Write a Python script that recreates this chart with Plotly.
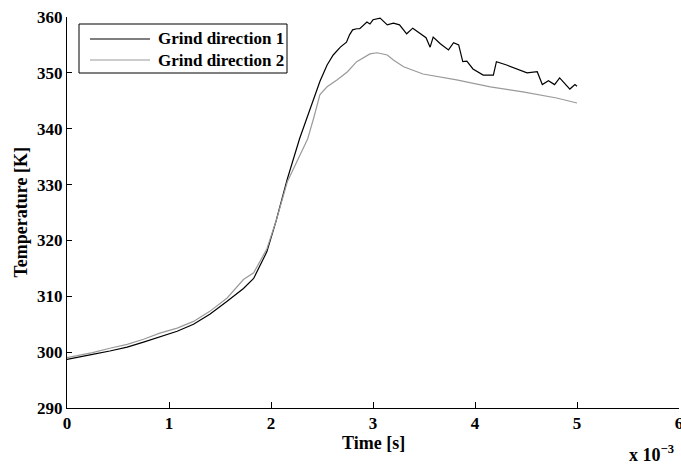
import plotly.graph_objects as go

# Time in ms (axis shown as x 10^-3 s), temperature in K
t_dir1 = [0.00, 0.10, 0.25, 0.42, 0.59, 0.75, 0.91, 1.08, 1.24, 1.40,
          1.57, 1.73, 1.83, 1.90, 1.96, 2.05, 2.16, 2.28, 2.41, 2.48,
          2.55, 2.61, 2.68, 2.71, 2.74, 2.77, 2.80, 2.84, 2.87, 2.94,
          2.97, 3.00, 3.07, 3.14, 3.20, 3.26, 3.33, 3.39, 3.46, 3.52,
          3.56, 3.59, 3.66, 3.74, 3.79, 3.84, 3.88, 3.92, 3.98, 4.08,
          4.18, 4.21, 4.31, 4.44, 4.51, 4.61, 4.66, 4.72, 4.78, 4.83,
          4.93, 4.98, 5.00]
T_dir1 = [298.7, 299.1, 299.6, 300.2, 300.9, 301.8, 302.7, 303.75, 305.0, 306.8,
          309.1, 311.4, 313.2, 315.9, 318.0, 323.5, 331.0, 338.2, 344.8, 348.5,
          351.4, 353.2, 354.6, 355.0, 355.5, 356.8, 357.7, 357.9, 357.9, 359.1,
          358.75, 359.5, 359.8, 358.6, 358.9, 358.6, 357.0, 358.0, 357.0, 356.3,
          354.6, 356.4, 355.2, 354.1, 355.4, 355.0, 352.0, 352.1, 350.7, 349.6,
          349.6, 352.0, 351.4, 350.5, 350.0, 350.2, 347.9, 348.6, 347.9, 349.1,
          347.1, 347.9, 347.6]

t_dir2 = [0.00, 0.25, 0.42, 0.59, 0.75, 0.91, 1.08, 1.24, 1.40, 1.57,
          1.73, 1.83, 1.96, 2.05, 2.16, 2.26, 2.36, 2.42, 2.48, 2.55,
          2.65, 2.75, 2.84, 2.97, 3.04, 3.14, 3.20, 3.30, 3.49, 3.82,
          4.15, 4.47, 4.80, 5.00]
T_dir2 = [299.0, 299.9, 300.7, 301.4, 302.3, 303.4, 304.3, 305.5, 307.3, 309.7,
          313.0, 314.2, 318.5, 323.5, 330.5, 334.5, 338.2, 342.0, 346.1, 347.5,
          348.75, 350.2, 352.0, 353.4, 353.6, 353.2, 352.3, 351.1, 349.8, 348.75,
          347.5, 346.6, 345.5, 344.6]

series_names = ["Grind direction 1", "Grind direction 2"]
series_colors = ["#000000", "#9a9a9a"]
x_ticks = [0, 1, 2, 3, 4, 5, 6]
y_ticks = [290, 300, 310, 320, 330, 340, 350, 360]

FONT = "Liberation Serif"
TXT = dict(family=FONT, size=18, color="black", weight="bold")
LEG = dict(family=FONT, size=17, color="black", weight="bold")
TICK = dict(family=FONT, size=17, color="black", weight="bold")

# plot-area geometry (pixels)
L, R, T, B = 67, 679, 17, 408
W, H = R - L, B - T


def px(xp):
    return (xp - L) / W


def py(yp):
    return (B - yp) / H


fig = go.Figure()
for xs, ys, name, col in [(t_dir1, T_dir1, series_names[0], series_colors[0]),
                          (t_dir2, T_dir2, series_names[1], series_colors[1])]:
    fig.add_trace(go.Scatter(x=xs, y=ys, mode="lines", name=name,
                             line=dict(color=col, width=1.2), showlegend=False))

axis_common = dict(
    showline=True, linecolor="black", linewidth=1, mirror=False,
    showgrid=False, zeroline=False, ticks="inside", tickcolor="black",
    tickfont=TICK, ticklabeloverflow="allow", automargin=False,
)

shapes = [dict(type="rect", xref="paper", yref="paper",
               x0=px(79), x1=px(287), y0=py(73), y1=py(24),
               line=dict(color="black", width=1), fillcolor="white", layer="above")]
annotations = []
for i, (name, col) in enumerate(zip(series_names, series_colors)):
    yrow = 39 + i * 21
    shapes.append(dict(type="line", xref="paper", yref="paper",
                       x0=px(90), x1=px(150), y0=py(yrow), y1=py(yrow),
                       line=dict(color=col, width=1.2), layer="above"))
    annotations.append(dict(text=name, xref="paper", yref="paper",
                            x=px(156), y=py(yrow), xanchor="left", yanchor="middle",
                            showarrow=False, font=LEG))

annotations += [
    dict(text="Time [s]", xref="paper", yref="paper", x=0.5, y=0,
         xanchor="center", yanchor="middle", yshift=-35, showarrow=False,
         font=TXT),
    dict(text="Temperature [K]", xref="paper", yref="paper", x=0, y=0.5,
         xanchor="center", yanchor="middle", xshift=-47, textangle=-90,
         showarrow=False, font=TXT),
    dict(text="x 10<sup>\u22123</sup>", xref="paper", yref="paper", x=1, y=0,
         xanchor="right", yanchor="middle", yshift=-45, xshift=-3,
         showarrow=False, font=TXT),
]

fig.update_layout(
    width=681, height=466,
    margin=dict(l=L, r=681 - R, t=T, b=466 - B),
    paper_bgcolor="white", plot_bgcolor="white",
    xaxis=dict(range=[0, 6], tickvals=x_ticks, ticktext=[str(v) for v in x_ticks],
               ticklen=6, **axis_common),
    yaxis=dict(range=[290, 360], tickvals=y_ticks, ticktext=[str(v) for v in y_ticks],
               ticklen=5, **axis_common),
    showlegend=False,
    shapes=shapes,
    annotations=annotations,
)

fig.write_html("out.html")
